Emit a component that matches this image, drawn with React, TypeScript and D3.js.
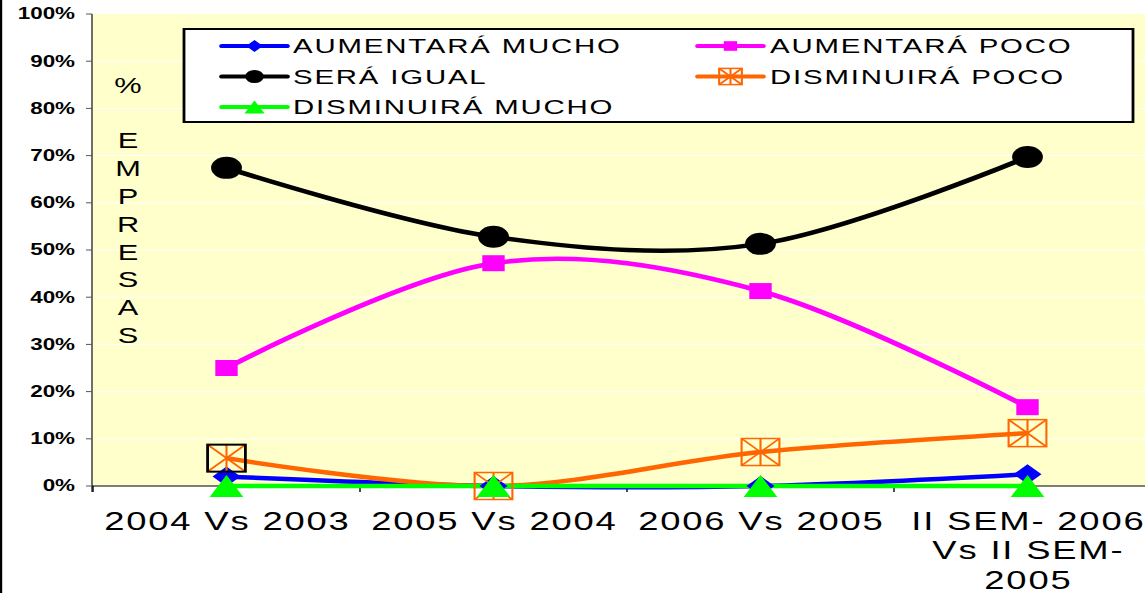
import React from 'react';
import * as d3 from 'd3';

// ---- data ----
const categories = ['2004 Vs 2003', '2005 Vs 2004', '2006 Vs 2005', 'II SEM-2006 Vs II SEM-2005'];
const categoryLines = [['2004 Vs 2003'], ['2005 Vs 2004'], ['2006 Vs 2005'], ['II SEM- 2006', 'Vs II SEM-', '2005']];
const aumentaraMucho = [0.02, 0, 0, 0.025];
const aumentaraPoco = [0.25, 0.472, 0.413, 0.167];
const seraIgual = [0.674, 0.528, 0.513, 0.697];
const disminuiraPoco = [0.059, 0, 0.072, 0.112];
const disminuiraMucho = [0, 0, 0, 0];
const yTicks = [0, 0.1, 0.2, 0.3, 0.4, 0.5, 0.6, 0.7, 0.8, 0.9, 1.0];
const seriesNames = ['AUMENTARÁ MUCHO', 'AUMENTARÁ POCO', 'SERÁ IGUAL', 'DISMINUIRÁ POCO', 'DISMINUIRÁ MUCHO'];
const seriesColors = ['#0000FF', '#FF00FF', '#000000', '#FF6600', '#00FF00'];
const seriesMarkers = ['diamond', 'square', 'circle', 'boxstar', 'triangle'];
const axisTitleTop = '%';
const axisTitleLetters = ['E', 'M', 'P', 'R', 'E', 'S', 'A', 'S'];

const seriesValues = [aumentaraMucho, aumentaraPoco, seraIgual, disminuiraPoco, disminuiraMucho];

// ---- layout (chart is horizontally stretched) ----
const K = 1.4;
const W = 1145;
const H = 593;
const VW = W / K;
const FONT = '"Liberation Sans", Arial, sans-serif';

function Marker({ type, cx, cy, s, color, boxStroke }: any) {
  if (type === 'diamond') {
    const h = 10 * s;
    return <path d={`M${cx},${cy - h}L${cx + h},${cy}L${cx},${cy + h}L${cx - h},${cy}Z`} fill={color} />;
  }
  if (type === 'square') {
    const h = 8 * s;
    return <rect x={cx - h} y={cy - h} width={2 * h} height={2 * h} fill={color} />;
  }
  if (type === 'circle') {
    return <circle cx={cx} cy={cy} r={11 * s} fill={color} />;
  }
  if (type === 'triangle') {
    const hw = 12 * s;
    const hh = 11 * s;
    return <path d={`M${cx},${cy - hh}L${cx + hw},${cy + hh}L${cx - hw},${cy + hh}Z`} fill={color} />;
  }
  // boxstar
  const hw = 13.5 * s;
  const hh = 13.5 * s;
  const st = boxStroke || color;
  return (
    <g fill="none" strokeWidth={1.5}>
      <line x1={cx - hw} y1={cy - hh} x2={cx + hw} y2={cy + hh} stroke={color} />
      <line x1={cx - hw} y1={cy + hh} x2={cx + hw} y2={cy - hh} stroke={color} />
      <line x1={cx} y1={cy - hh} x2={cx} y2={cy + hh} stroke={color} />
      <rect x={cx - hw} y={cy - hh} width={2 * hw} height={2 * hh} stroke={st} strokeWidth={boxStroke ? 2 : 1.5} />
    </g>
  );
}

export default function App() {
  const x = d3.scaleBand<string>().domain(categories).range([93 / K, 1161 / K]).paddingInner(0).paddingOuter(0);
  const bw = x.bandwidth();
  const cxOf = (c: string) => (x(c) as number) + bw / 2;
  const y = d3.scaleLinear().domain([0, 1]).range([486, 14]);
  const plotL = 92 / K;
  const plotR = 1161 / K;

  const line = d3
    .line<number>()
    .x((_, i) => cxOf(categories[i]))
    .y((d) => y(d))
    .curve(d3.curveCardinal.tension(0));

  const legendRows = [
    { idx: 0, col: 0, row: 0 },
    { idx: 1, col: 1, row: 0 },
    { idx: 2, col: 0, row: 1 },
    { idx: 3, col: 1, row: 1 },
    { idx: 4, col: 0, row: 2 },
  ];
  const legendCols = [
    { l1: 222 / K, l2: 287 / K, tx: 293 / K },
    { l1: 698 / K, l2: 763 / K, tx: 770 / K },
  ];
  const legendRowY = [46, 76.5, 107];

  return (
    <svg
      width={W}
      height={H}
      viewBox={`0 0 ${VW} ${H}`}
      preserveAspectRatio="none"
      style={{ position: 'absolute', left: 0, top: 0, display: 'block', background: '#FFFFFF' }}
    >
      {/* outer left border */}
      <rect x={0} y={0} width={2.2 / K} height={H} fill="#000" />

      {/* plot background */}
      <rect x={plotL} y={y(1)} width={plotR - plotL} height={y(0) - y(1)} fill="#FFFFCC" />

      {/* gridlines */}
      {yTicks.filter((t) => t > 0 && t < 1).map((t) => (
        <line key={'g' + t} x1={plotL} x2={plotR} y1={y(t)} y2={y(t)} stroke="#FFFFFF" strokeWidth={1} />
      ))}

      {/* y axis */}
      <line x1={plotL} x2={plotL} y1={y(1)} y2={y(0) + 6} stroke="#555" strokeWidth={1.2} />
      {yTicks.map((t) => (
        <g key={'yt' + t}>
          <line x1={plotL - 6 / K} x2={plotL} y1={y(t)} y2={y(t)} stroke="#555" strokeWidth={1} />
          <text
            x={75 / K}
            y={y(t) + 5.5}
            textAnchor="end"
            fontFamily={FONT}
            fontWeight="bold"
            fontSize={16}
            fill="#000"
          >
            {`${Math.round(t * 100)}%`}
          </text>
        </g>
      ))}

      {/* x axis */}
      <line x1={plotL} x2={plotR} y1={y(0)} y2={y(0)} stroke="#000" strokeWidth={1.2} />
      {categories.map((c) => (
        <line key={'xt' + c} x1={x(c) as number} x2={x(c) as number} y1={y(0)} y2={y(0) + 6} stroke="#000" strokeWidth={1} />
      ))}
      {categories.map((c, i) => (
        <text
          key={'xl' + c}
          x={cxOf(c) + 0.65}
          y={530}
          textAnchor="middle"
          fontFamily={FONT}
          fontSize={26}
          letterSpacing={1.3}
          fill="#000"
        >
          {categoryLines[i].map((ln, j) => (
            <tspan key={j} x={cxOf(c) + 0.65} y={530 + j * 29.5}>
              {ln}
            </tspan>
          ))}
        </text>
      ))}

      {/* axis title */}
      <text x={128 / K} y={93} textAnchor="middle" fontFamily={FONT} fontSize={22} fill="#000">
        {axisTitleTop}
      </text>
      {axisTitleLetters.map((ch, i) => (
        <text key={'at' + i} x={128 / K} y={148 + i * 27.9} textAnchor="middle" fontFamily={FONT} fontSize={22} fill="#000">
          {ch}
        </text>
      ))}

      {/* series lines */}
      {seriesValues.map((vals, si) => (
        <path key={'l' + si} d={line(vals) || ''} fill="none" stroke={seriesColors[si]} strokeWidth={4.5} strokeLinejoin="round" />
      ))}
      {/* markers */}
      {seriesValues.map((vals, si) => (
        <g key={'m' + si}>
          {vals.map((v, i) => (
            <Marker
              key={i}
              type={seriesMarkers[si]}
              cx={cxOf(categories[i])}
              cy={y(v)}
              s={1}
              color={seriesColors[si]}
              boxStroke={si === 3 && i === 0 ? '#000' : undefined}
            />
          ))}
        </g>
      ))}

      {/* legend */}
      <rect x={184 / K} y={29} width={(1133 - 184) / K} height={93} fill="#FFFFFF" stroke="#000" strokeWidth={2} />
      {legendRows.map(({ idx, col, row }) => {
        const c = legendCols[col];
        const ly = legendRowY[row];
        const mx = (c.l1 + c.l2) / 2;
        return (
          <g key={'lg' + idx}>
            <line x1={c.l1} x2={c.l2} y1={ly} y2={ly} stroke={seriesColors[idx]} strokeWidth={4} strokeLinecap="round" />
            <Marker type={seriesMarkers[idx]} cx={mx} cy={ly} s={0.6} color={seriesColors[idx]} />
            <text x={c.tx} y={ly + 7.5} fontFamily={FONT} fontSize={21} letterSpacing={1.3} fill="#000">
              {seriesNames[idx]}
            </text>
          </g>
        );
      })}
    </svg>
  );
}
